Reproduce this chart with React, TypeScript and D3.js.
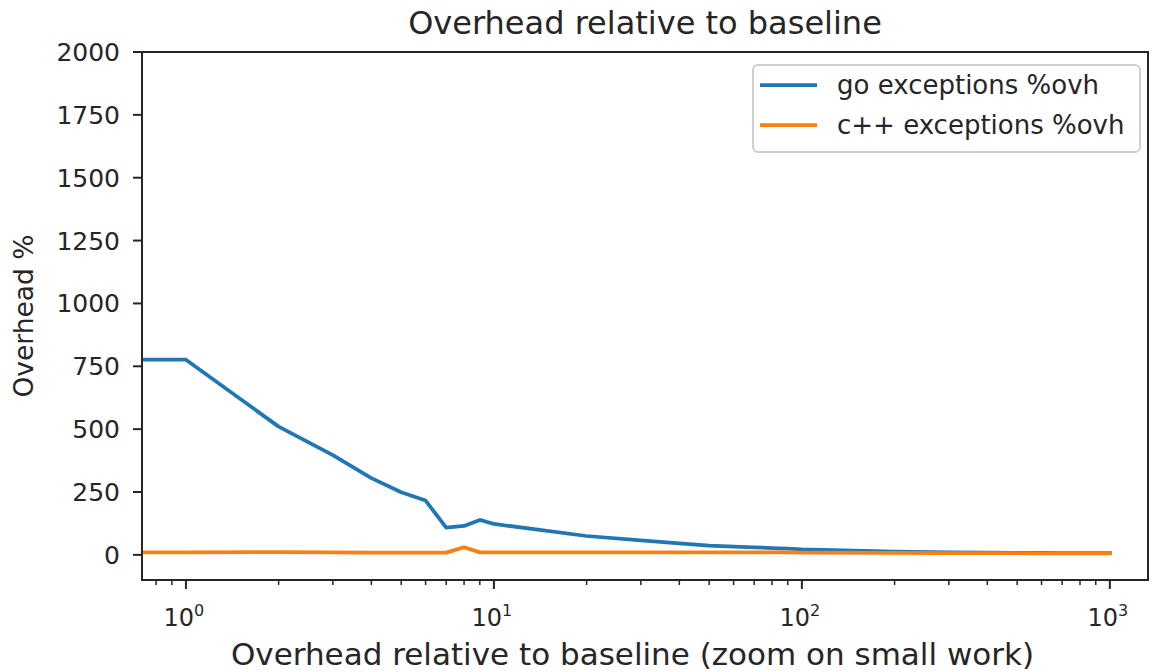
import React from "react";
import * as d3 from "d3";

// work sizes (x) and overhead percentages for both series
const workSizes = [0, 1, 2, 3, 4, 5, 6, 7, 8, 9, 10, 20, 30, 40, 50, 60, 70, 80, 90, 100, 200, 300, 400, 500, 600, 700, 800, 900, 1000];
const goOverhead = [776, 776, 510, 397, 305, 249, 216, 108, 115, 139, 123, 75, 58, 46, 37, 33, 30, 27, 25, 22, 13, 10, 9, 8, 8, 7, 7, 7, 7];
const cppOverhead = [10, 10, 11, 10, 9, 9, 9, 9, 30, 10, 10, 10, 10, 10, 10, 10, 10, 10, 10, 9, 8, 7, 7, 7, 6, 6, 6, 6, 6];

const yTicks = [0, 250, 500, 750, 1000, 1250, 1500, 1750, 2000];
const xMajorTicks = [1, 10, 100, 1000];

const series = [
  { name: "go exceptions %ovh", values: goOverhead, color: "#1f77b4" },
  { name: "c++ exceptions %ovh", values: cppOverhead, color: "#ff7f0e" },
];

const WIDTH = 1151;
const HEIGHT = 672;
const M = { left: 142, right: 1148, top: 52, bottom: 580 };
const FONT = "DejaVu Sans, sans-serif";
const INK = "#262626";

const App = () => {
  const x = d3.scaleLog().domain([0.72, 1330]).range([M.left, M.right]);
  const y = d3.scaleLinear().domain([-100, 2000]).range([M.bottom, M.top]);

  // zero can't sit on a log axis, so push it far left and let the clip cut it
  const line = d3
    .line<number>()
    .x((_, i) => x(Math.max(workSizes[i], 0.01)))
    .y((v) => y(v));

  const minorTicks: number[] = [];
  for (const decade of [0.1, 1, 10, 100, 1000]) {
    for (let k = 2; k <= 9; k++) {
      const t = decade * k;
      if (t >= 0.72 && t <= 1330) minorTicks.push(t);
    }
  }

  return (
    <svg
      width={WIDTH}
      height={HEIGHT}
      style={{ position: "absolute", left: 0, top: 0, background: "#fff" }}
      fontFamily={FONT}
    >
      <defs>
        <clipPath id="plot">
          <rect x={M.left} y={M.top} width={M.right - M.left} height={M.bottom - M.top} />
        </clipPath>
      </defs>

      <text x={645} y={34} fontSize={32} textAnchor="middle" fill={INK}>
        Overhead relative to baseline
      </text>

      {/* lines */}
      <g clipPath="url(#plot)">
        {series.map((s) => (
          <path
            key={s.name}
            d={line(s.values) ?? ""}
            fill="none"
            stroke={s.color}
            strokeWidth={3.75}
            strokeLinejoin="round"
            strokeLinecap="square"
          />
        ))}
      </g>

      {/* y axis */}
      {yTicks.map((t) => (
        <g key={t}>
          <line x1={M.left - 9} x2={M.left} y1={y(t)} y2={y(t)} stroke={INK} strokeWidth={2} />
          <text x={M.left - 22} y={y(t)} dy="0.36em" fontSize={25} textAnchor="end" fill={INK}>
            {t}
          </text>
        </g>
      ))}
      <text
        transform={`translate(23, ${(M.top + M.bottom) / 2}) rotate(-90)`}
        fontSize={26.5}
        textAnchor="middle"
        dy="0.36em"
        fill={INK}
      >
        Overhead %
      </text>

      {/* x axis */}
      {minorTicks.map((t) => (
        <line key={"m" + t} x1={x(t)} x2={x(t)} y1={M.bottom} y2={M.bottom + 5} stroke={INK} strokeWidth={1.5} />
      ))}
      {xMajorTicks.map((t) => (
        <g key={t}>
          <line x1={x(t)} x2={x(t)} y1={M.bottom} y2={M.bottom + 9} stroke={INK} strokeWidth={2} />
          <text x={x(t) - 2} y={626} fontSize={24} textAnchor="middle" fill={INK}>
            10
            <tspan fontSize={16} dy={-10}>
              {Math.round(Math.log10(t))}
            </tspan>
          </text>
        </g>
      ))}
      <text x={632.5} y={665} fontSize={31} textAnchor="middle" fill={INK}>
        Overhead relative to baseline (zoom on small work)
      </text>

      {/* frame */}
      <rect
        x={M.left}
        y={M.top}
        width={M.right - M.left}
        height={M.bottom - M.top}
        fill="none"
        stroke={INK}
        strokeWidth={2}
      />

      {/* legend */}
      <g>
        <rect x={753} y={65} width={387} height={87} rx={5} fill="#fff" fillOpacity={0.8} stroke="#d0d0d0" strokeWidth={2} />
        {series.map((s, i) => (
          <g key={s.name} transform={`translate(0, ${85 + i * 40})`}>
            <line x1={760} x2={817} y1={0} y2={0} stroke={s.color} strokeWidth={3.75} />
            <text x={837} y={0} dy="0.36em" fontSize={26} fill={INK}>
              {s.name}
            </text>
          </g>
        ))}
      </g>
    </svg>
  );
};

export default App;
